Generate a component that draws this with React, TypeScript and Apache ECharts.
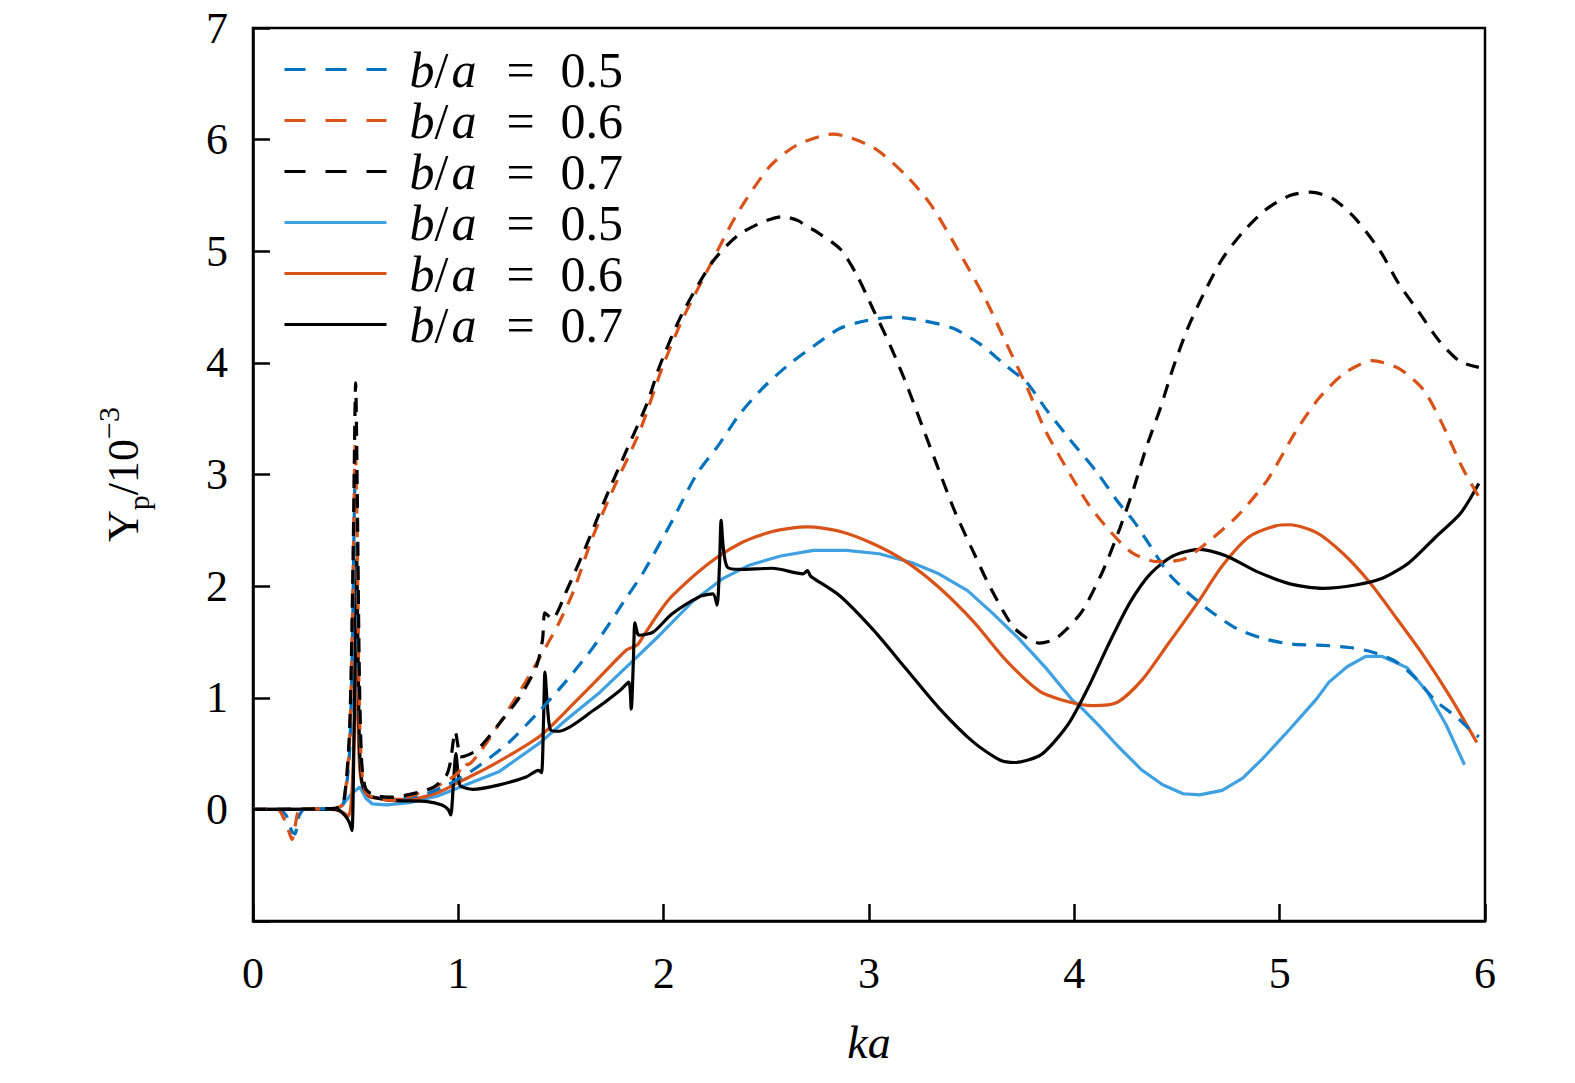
import { useEffect, useRef } from "react";
import * as echarts from "echarts";

const FONT = "'Liberation Serif', 'DejaVu Serif', serif";

// ka tick values
const xTicks = [0, 1, 2, 3, 4, 5, 6];
const yTicks = [-1, 0, 1, 2, 3, 4, 5, 6, 7];

// b/a = 0.5, dashed
const dash05: number[][] = [
  [0, 0], [0.12, 0], [0.16, -0.05], [0.19, -0.2], [0.205, -0.22], [0.22, -0.08], [0.25, 0],
  [0.4, 0.01], [0.44, 0.05], [0.47, 0.5], [0.485, 1.6], [0.497, 2.92], [0.505, 2.3], [0.515, 1.0],
  [0.53, 0.35], [0.55, 0.17], [0.6, 0.12], [0.7, 0.1], [0.8, 0.12], [0.86, 0.15], [0.95, 0.22],
  [1.07, 0.35], [1.24, 0.59], [1.4, 0.89], [1.53, 1.16], [1.66, 1.46], [1.82, 1.9], [1.9, 2.12],
  [2.04, 2.58], [2.16, 3.0], [2.27, 3.27], [2.37, 3.54], [2.48, 3.77], [2.6, 3.97], [2.73, 4.15],
  [2.86, 4.31], [2.99, 4.38], [3.12, 4.41], [3.26, 4.38], [3.41, 4.31], [3.54, 4.17], [3.67, 3.97],
  [3.77, 3.82], [3.86, 3.59], [3.98, 3.31], [4.11, 3.02], [4.21, 2.76], [4.29, 2.58], [4.37, 2.36],
  [4.46, 2.11], [4.56, 1.93], [4.66, 1.78], [4.79, 1.62], [4.92, 1.53], [5.06, 1.48], [5.21, 1.47],
  [5.34, 1.45], [5.45, 1.41], [5.57, 1.32], [5.67, 1.16], [5.76, 0.97], [5.86, 0.83], [5.94, 0.69],
  [5.97, 0.65],
];

// b/a = 0.6, dashed
const dash06: number[][] = [
  [0, 0], [0.12, 0], [0.15, -0.08], [0.175, -0.2], [0.19, -0.27], [0.205, -0.15], [0.23, 0],
  [0.4, 0.01], [0.44, 0.05], [0.47, 0.6], [0.485, 1.8], [0.498, 3.28], [0.507, 2.5], [0.517, 1.0],
  [0.53, 0.35], [0.55, 0.15], [0.6, 0.1], [0.68, 0.08], [0.8, 0.14], [0.93, 0.24], [1.0, 0.33],
  [1.03, 0.42], [1.045, 0.4], [1.1, 0.5], [1.2, 0.77], [1.3, 1.06], [1.4, 1.37], [1.49, 1.67],
  [1.56, 1.95], [1.65, 2.42], [1.75, 2.85], [1.884, 3.39], [1.996, 3.97], [2.094, 4.4],
  [2.225, 4.87], [2.356, 5.33], [2.517, 5.76], [2.648, 5.95], [2.824, 6.05], [3.02, 5.93],
  [3.18, 5.68], [3.3, 5.42], [3.44, 4.99], [3.57, 4.56], [3.67, 4.17], [3.77, 3.78], [3.86, 3.39],
  [3.98, 3.0], [4.07, 2.73], [4.17, 2.5], [4.28, 2.3], [4.4, 2.22], [4.53, 2.24], [4.64, 2.38],
  [4.79, 2.62], [4.94, 2.95], [5.08, 3.39], [5.19, 3.68], [5.31, 3.9], [5.45, 4.02], [5.58, 3.95],
  [5.7, 3.76], [5.79, 3.46], [5.89, 3.06], [5.97, 2.8],
];

// b/a = 0.7, dashed
const dash07: number[][] = [
  [0, 0], [0.4, 0.01], [0.44, 0.05], [0.47, 0.7], [0.487, 2.2], [0.5, 3.82], [0.508, 2.8],
  [0.518, 1.2], [0.53, 0.4], [0.55, 0.18], [0.6, 0.12], [0.68, 0.11], [0.8, 0.15], [0.88, 0.2],
  [0.94, 0.3], [0.96, 0.41], [0.985, 0.7], [1.0, 0.55], [1.01, 0.47], [1.09, 0.53], [1.2, 0.77],
  [1.3, 1.01], [1.38, 1.28], [1.41, 1.52], [1.42, 1.76], [1.435, 1.74], [1.455, 1.7], [1.53, 1.97],
  [1.62, 2.35], [1.72, 2.8], [1.82, 3.22], [1.92, 3.64], [1.98, 3.97], [2.09, 4.44], [2.24, 4.91],
  [2.36, 5.14], [2.48, 5.26], [2.58, 5.31], [2.66, 5.27], [2.7, 5.21], [2.72, 5.2], [2.74, 5.18],
  [2.86, 5.02], [2.94, 4.79], [3.02, 4.48], [3.1, 4.17], [3.18, 3.82], [3.26, 3.43], [3.34, 3.04],
  [3.42, 2.66], [3.51, 2.3], [3.59, 1.99], [3.7, 1.64], [3.78, 1.52], [3.83, 1.49], [3.9, 1.52],
  [3.96, 1.61], [4.04, 1.78], [4.14, 2.14], [4.22, 2.51], [4.29, 2.88], [4.35, 3.24], [4.42, 3.6],
  [4.48, 3.95], [4.55, 4.3], [4.63, 4.62], [4.72, 4.93], [4.82, 5.17], [4.93, 5.37], [5.05, 5.5],
  [5.15, 5.53], [5.26, 5.47], [5.37, 5.29], [5.49, 5.0], [5.58, 4.71], [5.68, 4.45], [5.78, 4.19],
  [5.88, 4.01], [5.97, 3.96],
];

// b/a = 0.5, solid
const solid05: number[][] = [
  [0, 0], [0.38, 0], [0.42, 0.01], [0.45, 0.07], [0.48, 0.14], [0.52, 0.2], [0.55, 0.1],
  [0.58, 0.05], [0.65, 0.04], [0.76, 0.06], [0.9, 0.12], [1.01, 0.2], [1.2, 0.34], [1.4, 0.6],
  [1.53, 0.81], [1.69, 1.05], [1.85, 1.33], [1.98, 1.56], [2.14, 1.86], [2.29, 2.07], [2.42, 2.19],
  [2.57, 2.27], [2.73, 2.32], [2.89, 2.32], [3.05, 2.29], [3.21, 2.21], [3.34, 2.11], [3.48, 1.96],
  [3.6, 1.76], [3.73, 1.53], [3.86, 1.27], [3.99, 0.98], [4.04, 0.9], [4.12, 0.75], [4.21, 0.57],
  [4.33, 0.35], [4.43, 0.22], [4.53, 0.14], [4.61, 0.13], [4.72, 0.17], [4.82, 0.28], [4.92, 0.46],
  [5.05, 0.72], [5.18, 0.99], [5.24, 1.14], [5.33, 1.28], [5.42, 1.37], [5.5, 1.37], [5.62, 1.27],
  [5.72, 1.05], [5.81, 0.76], [5.9, 0.4],
];

// b/a = 0.6, solid
const solid06: number[][] = [
  [0, 0], [0.4, 0], [0.44, -0.03], [0.465, -0.06], [0.48, 0.1], [0.495, 0.8], [0.503, 1.5],
  [0.51, 0.9], [0.52, 0.35], [0.54, 0.18], [0.57, 0.11], [0.76, 0.09], [0.9, 0.15], [1.01, 0.25],
  [1.17, 0.4], [1.4, 0.66], [1.53, 0.89], [1.66, 1.13], [1.82, 1.43], [1.87, 1.47], [1.9, 1.55],
  [1.98, 1.77], [2.04, 1.91], [2.21, 2.19], [2.37, 2.38], [2.53, 2.49], [2.7, 2.53], [2.86, 2.49],
  [3.02, 2.38], [3.18, 2.22], [3.34, 1.99], [3.51, 1.68], [3.67, 1.33], [3.83, 1.06], [3.98, 0.96],
  [4.09, 0.93], [4.21, 0.96], [4.33, 1.16], [4.46, 1.49], [4.6, 1.85], [4.72, 2.18], [4.85, 2.44],
  [4.98, 2.54], [5.05, 2.55], [5.18, 2.48], [5.31, 2.29], [5.44, 2.03], [5.57, 1.71], [5.7, 1.38],
  [5.83, 1.01], [5.96, 0.6],
];

// b/a = 0.7, solid
const solid07: number[][] = [
  [0, 0], [0.38, 0], [0.42, -0.01], [0.45, -0.06], [0.47, -0.12], [0.482, -0.19], [0.49, 0.4],
  [0.497, 1.4], [0.505, 2.24], [0.511, 1.5], [0.518, 0.6], [0.527, 0.3], [0.536, 0.2], [0.56, 0.13],
  [0.585, 0.11], [0.68, 0.08], [0.85, 0.07], [0.92, 0.04], [0.95, 0.0], [0.963, -0.05], [0.975, 0.2],
  [0.988, 0.5], [1.0, 0.3], [1.01, 0.21], [1.07, 0.18], [1.2, 0.22], [1.33, 0.29], [1.39, 0.35],
  [1.405, 0.33], [1.415, 0.8], [1.422, 1.23], [1.435, 0.9], [1.45, 0.71], [1.49, 0.7], [1.66, 0.89],
  [1.79, 1.07], [1.83, 1.14], [1.842, 0.9], [1.852, 1.3], [1.86, 1.67], [1.872, 1.58], [1.88, 1.56],
  [1.95, 1.59], [2.04, 1.75], [2.18, 1.91], [2.24, 1.93], [2.26, 1.83], [2.272, 2.2], [2.28, 2.59],
  [2.29, 2.35], [2.31, 2.17], [2.37, 2.15], [2.53, 2.16], [2.68, 2.11], [2.7, 2.14], [2.715, 2.09],
  [2.73, 2.07], [2.86, 1.91], [3.02, 1.61], [3.18, 1.26], [3.34, 0.91], [3.51, 0.6], [3.64, 0.44],
  [3.71, 0.42], [3.83, 0.48], [3.9, 0.6], [3.98, 0.79], [4.07, 1.1], [4.17, 1.49], [4.27, 1.85],
  [4.37, 2.11], [4.48, 2.27], [4.61, 2.33], [4.74, 2.27], [4.89, 2.13], [5.05, 2.02], [5.21, 1.98],
  [5.37, 2.01], [5.5, 2.07], [5.63, 2.21], [5.76, 2.44], [5.88, 2.65], [5.97, 2.92],
];

const seriesMeta = [
  { key: "d05", ratio: "0.5", data: dash05, color: "#0072BD", dashed: true, smooth: 0.25 },
  { key: "d06", ratio: "0.6", data: dash06, color: "#D95319", dashed: true, smooth: 0.25 },
  { key: "d07", ratio: "0.7", data: dash07, color: "#000000", dashed: true, smooth: 0.25 },
  { key: "s05", ratio: "0.5", data: solid05, color: "#3FA0E2", dashed: false, smooth: 0 },
  { key: "s06", ratio: "0.6", data: solid06, color: "#D95319", dashed: false, smooth: 0.25 },
  { key: "s07", ratio: "0.7", data: solid07, color: "#000000", dashed: false, smooth: 0.25 },
];

function buildOption(): any {
  const tokenBase = { fontFamily: FONT, fontSize: 50, lineHeight: 51, color: "#000" };
  return {
    animation: false,
    backgroundColor: "#fff",
    textStyle: { fontFamily: FONT, color: "#000" },
    grid: {
      left: 253,
      top: 28,
      width: 1232,
      height: 893,
      show: true,
      borderColor: "#000",
      borderWidth: 2.5,
      backgroundColor: "transparent",
      containLabel: false,
    },
    legend: {
      orient: "vertical",
      left: 283,
      top: 44,
      padding: 0,
      itemWidth: 102,
      itemHeight: 14,
      itemGap: 0,
      selectedMode: false,
      itemStyle: { opacity: 0, color: "rgba(0,0,0,0)", borderWidth: 0 },
      data: seriesMeta.map((m) => ({
        name: m.key,
        lineStyle: { type: m.dashed ? [21, 20] : "solid", width: 3 },
      })),
      formatter: (name: string) => {
        const m = seriesMeta.find((s) => s.key === name);
        return `{b|b}{sl|/}{a|a}{eq|=}{v|${m ? m.ratio : ""}}`;
      },
      textStyle: {
        ...tokenBase,
        rich: {
          b: { ...tokenBase, fontStyle: "italic", padding: [0, 0, 0, 18] },
          sl: { ...tokenBase },
          a: { ...tokenBase, fontStyle: "italic", padding: [0, 0, 0, 3] },
          eq: { ...tokenBase, padding: [0, 26, 0, 30] },
          v: { ...tokenBase },
        },
      },
    },
    xAxis: {
      type: "value",
      min: xTicks[0],
      max: xTicks[xTicks.length - 1],
      interval: 1,
      name: "ka",
      nameLocation: "middle",
      nameGap: 98,
      nameTextStyle: { fontFamily: FONT, fontSize: 46, fontStyle: "italic", color: "#000" },
      axisLine: { show: true, onZero: false, lineStyle: { color: "#000", width: 2.5 } },
      axisTick: { show: true, inside: true, length: 17, lineStyle: { color: "#000", width: 2.5 } },
      axisLabel: { fontFamily: FONT, fontSize: 44, color: "#000", margin: 30 },
      splitLine: { show: false },
    },
    yAxis: {
      type: "value",
      min: yTicks[0],
      max: yTicks[yTicks.length - 1],
      interval: 1,
      name: "{r|Y}{sub|p}{r|/10}{sup|−3}",
      nameLocation: "middle",
      nameGap: 100,
      nameRotate: 90,
      nameTextStyle: {
        fontFamily: FONT,
        fontSize: 44,
        color: "#000",
        rich: {
          r: { fontFamily: FONT, fontSize: 44, lineHeight: 60, color: "#000" },
          sub: { fontFamily: FONT, fontSize: 30, lineHeight: 30, verticalAlign: "bottom", color: "#000" },
          sup: { fontFamily: FONT, fontSize: 30, lineHeight: 44, verticalAlign: "top", color: "#000" },
        },
      },
      axisLine: { show: true, onZero: false, lineStyle: { color: "#000", width: 2.5 } },
      axisTick: { show: true, inside: true, length: 17, lineStyle: { color: "#000", width: 2.5 } },
      axisLabel: {
        fontFamily: FONT,
        fontSize: 44,
        color: "#000",
        margin: 25,
        formatter: (v: number) => (v < 0 ? "" : String(v)),
      },
      splitLine: { show: false },
    },
    series: seriesMeta.map((m) => ({
      name: m.key,
      type: "line",
      data: m.data,
      symbol: "none",
      showSymbol: false,
      smooth: m.smooth,
      z: m.dashed ? 3 : 2,
      lineStyle: { color: m.color, width: 3.2, type: m.dashed ? [14, 10] : "solid" },
      itemStyle: { color: m.color },
      emphasis: { disabled: true },
    })),
  };
}

export default function App() {
  const ref = useRef<HTMLDivElement>(null);
  useEffect(() => {
    document.body.style.margin = "0";
    if (!ref.current) return;
    const chart = echarts.init(ref.current, null, { renderer: "svg" });
    chart.setOption(buildOption());
    return () => chart.dispose();
  }, []);
  return <div ref={ref} style={{ width: 1575, height: 1083 }} />;
}
